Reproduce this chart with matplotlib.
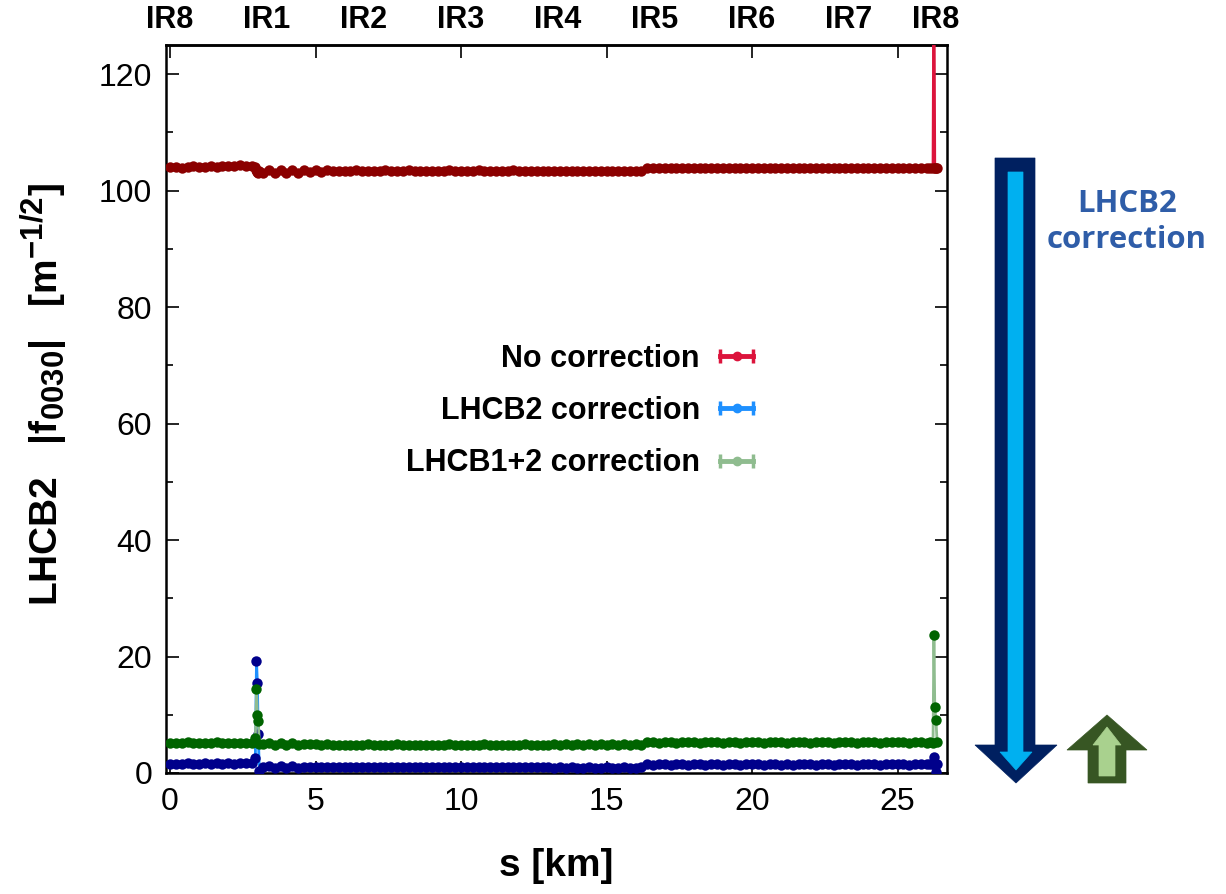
import matplotlib
matplotlib.use("Agg")
import matplotlib.pyplot as plt
import matplotlib._mathtext as _mt
from matplotlib.lines import Line2D
from matplotlib.legend_handler import HandlerLine2D, HandlerTuple
from matplotlib.ticker import AutoMinorLocator
from matplotlib.patches import Polygon

plt.rcParams['font.family'] = ['Liberation Sans', 'DejaVu Sans']
plt.rcParams['mathtext.fontset'] = 'custom'
plt.rcParams['mathtext.rm'] = 'Liberation Sans:bold'
plt.rcParams['mathtext.bf'] = 'Liberation Sans:bold'
plt.rcParams['mathtext.it'] = 'Liberation Sans:bold'
plt.rcParams['mathtext.default'] = 'rm'
_mt.SHRINK_FACTOR = 0.8  # gnuplot-like larger sub/superscripts

# ---------------- data ----------------
s_km = [0.0, 0.2, 0.4, 0.6, 0.8, 1.0, 1.2, 1.4, 1.6, 1.8, 2.0, 2.2, 2.4, 2.6, 2.8,
        2.93, 2.97, 3.0, 3.03, 3.07,
        3.2, 3.4, 3.6, 3.8, 4.0, 4.2, 4.4, 4.6, 4.8, 5.0,
        5.2, 5.4, 5.6, 5.8, 6.0, 6.2, 6.4, 6.6, 6.8, 7.0,
        7.2, 7.4, 7.6, 7.8, 8.0, 8.2, 8.4, 8.6, 8.8, 9.0,
        9.2, 9.4, 9.6, 9.8, 10.0, 10.2, 10.4, 10.6, 10.8, 11.0,
        11.2, 11.4, 11.6, 11.8, 12.0, 12.2, 12.4, 12.6, 12.8, 13.0,
        13.2, 13.4, 13.6, 13.8, 14.0, 14.2, 14.4, 14.6, 14.8, 15.0,
        15.2, 15.4, 15.6, 15.8, 16.0, 16.2, 16.4, 16.6, 16.8, 17.0,
        17.2, 17.4, 17.6, 17.8, 18.0, 18.2, 18.4, 18.6, 18.8, 19.0,
        19.2, 19.4, 19.6, 19.8, 20.0, 20.2, 20.4, 20.6, 20.8, 21.0,
        21.2, 21.4, 21.6, 21.8, 22.0, 22.2, 22.4, 22.6, 22.8, 23.0,
        23.2, 23.4, 23.6, 23.8, 24.0, 24.2, 24.4, 24.6, 24.8, 25.0,
        25.2, 25.4, 25.6, 25.8, 26.0,
        26.1, 26.22, 26.25, 26.28, 26.32, 26.36]

no_correction = [104.0, 104.1, 103.9, 104.1, 104.2, 104.0, 104.1, 104.3, 104.1, 104.2, 104.3, 104.2, 104.4, 104.2, 104.3,
                 104.1, 103.6, 103.2, 103.1, 103.4,
                 103.0, 103.5, 103.1, 103.5, 103.1, 103.5, 103.1, 103.5, 103.2, 103.5,
                 103.2, 103.5, 103.3, 103.4, 103.4, 103.4, 103.5, 103.4, 103.4, 103.4,
                 103.4, 103.5, 103.4, 103.4, 103.4, 103.5, 103.4, 103.4, 103.4, 103.4,
                 103.4, 103.4, 103.5, 103.4, 103.4, 103.4, 103.4, 103.5, 103.4, 103.4,
                 103.4, 103.4, 103.4, 103.5, 103.4, 103.4, 103.3, 103.4, 103.4, 103.4,
                 103.3, 103.4, 103.3, 103.4, 103.3, 103.3, 103.4, 103.3, 103.3, 103.4,
                 103.3, 103.3, 103.4, 103.3, 103.3, 103.4, 103.8, 103.9, 103.8, 103.9,
                 103.9, 103.8, 103.9, 103.9, 103.8, 103.9, 103.9, 103.8, 103.9, 103.9,
                 103.8, 103.9, 103.9, 103.9, 103.8, 103.9, 103.9, 103.8, 103.9, 103.9,
                 103.9, 103.8, 103.9, 103.9, 103.9, 103.8, 103.9, 103.9, 103.9, 103.8,
                 103.9, 103.9, 103.8, 103.9, 103.9, 103.9, 103.8, 103.9, 103.9, 103.9,
                 103.9, 103.9, 103.8, 103.9, 103.9,
                 103.9, 103.9, 140.0, 103.9, 103.9, 103.9]

lhcb2_correction = [1.5, 1.6, 1.5, 1.7, 1.6, 1.6, 1.7, 1.6, 1.7, 1.6, 1.7, 1.6, 1.8, 1.7, 1.7,
                    2.6, 19.3, 15.5, 6.7, 0.3,
                    1.0, 1.2, 0.9, 1.2, 0.9, 1.2, 0.9, 1.1, 1.0, 1.1,
                    1.0, 1.0, 1.1, 1.0, 1.0, 1.0, 1.1, 1.0, 1.0, 1.0,
                    1.0, 1.1, 1.0, 1.0, 1.0, 1.0, 1.1, 1.0, 1.0, 1.0,
                    1.0, 1.0, 1.0, 1.1, 1.0, 1.0, 1.0, 1.0, 1.1, 1.0,
                    1.0, 1.0, 1.1, 1.0, 1.0, 1.0, 1.0, 1.0, 1.0, 1.0,
                    0.9, 1.0, 0.9, 1.0, 0.9, 0.9, 1.0, 0.9, 0.9, 1.0,
                    0.9, 0.9, 1.0, 0.9, 0.9, 1.0, 1.5, 1.4, 1.5, 1.5,
                    1.4, 1.5, 1.5, 1.4, 1.5, 1.5, 1.4, 1.5, 1.5, 1.4,
                    1.5, 1.5, 1.4, 1.5, 1.5, 1.5, 1.4, 1.5, 1.5, 1.4,
                    1.5, 1.4, 1.5, 1.5, 1.5, 1.4, 1.5, 1.5, 1.4, 1.5,
                    1.5, 1.5, 1.4, 1.5, 1.5, 1.5, 1.4, 1.5, 1.5, 1.5,
                    1.5, 1.4, 1.5, 1.5, 1.5,
                    1.5, 1.5, 2.7, 1.4, 0.2, 1.5]

lhcb12_correction = [5.1, 5.2, 5.1, 5.3, 5.2, 5.2, 5.1, 5.2, 5.3, 5.1, 5.2, 5.1, 5.2, 5.2, 5.1,
                     6.0, 14.4, 10.0, 9.0, 5.0,
                     4.9, 5.1, 4.8, 5.1, 4.8, 5.1, 4.8, 5.0, 4.9, 5.0,
                     4.8, 4.9, 4.8, 4.8, 4.8, 4.8, 4.8, 4.8, 4.9, 4.8,
                     4.8, 4.8, 4.8, 4.9, 4.8, 4.8, 4.8, 4.8, 4.8, 4.8,
                     4.8, 4.8, 4.9, 4.8, 4.8, 4.8, 4.8, 4.8, 4.9, 4.8,
                     4.8, 4.8, 4.8, 4.8, 4.8, 4.9, 4.8, 4.8, 4.8, 4.8,
                     4.9, 4.8, 4.9, 4.8, 4.9, 4.8, 4.9, 4.8, 4.9, 4.8,
                     4.9, 4.8, 4.9, 4.8, 4.9, 4.8, 5.3, 5.3, 5.2, 5.3,
                     5.3, 5.2, 5.3, 5.3, 5.3, 5.2, 5.3, 5.3, 5.3, 5.2,
                     5.3, 5.3, 5.2, 5.3, 5.3, 5.3, 5.2, 5.3, 5.3, 5.3,
                     5.2, 5.3, 5.3, 5.3, 5.2, 5.3, 5.3, 5.3, 5.2, 5.3,
                     5.3, 5.3, 5.2, 5.3, 5.3, 5.3, 5.2, 5.3, 5.3, 5.3,
                     5.3, 5.2, 5.3, 5.3, 5.2,
                     5.3, 5.2, 23.7, 11.3, 9.1, 5.3]

ir_positions = [0.0, 3.33, 6.66, 9.99, 13.33, 16.66, 19.99, 23.32, 26.3]
ir_labels = ['IR8', 'IR1', 'IR2', 'IR3', 'IR4', 'IR5', 'IR6', 'IR7', 'IR8']

series_labels = ['No correction', 'LHCB2 correction', 'LHCB1+2 correction']
line_colors = ['#dc143c', '#1e90ff', '#8fbc8f']
point_colors = ['#8b0000', '#00008b', '#006400']

# ---------------- figure ----------------
W, H = 1226, 894
fig = plt.figure(figsize=(W / 100, H / 100), dpi=100)
ax = fig.add_axes([166 / W, 1 - 773 / H, (947 - 166) / W, (773 - 45) / H])

order = [(no_correction, 0), (lhcb2_correction, 1), (lhcb12_correction, 2)]
for vals, i in order:
    ax.plot(s_km, vals, color=line_colors[i], lw=2, marker='o', ms=7.5,
            mfc=point_colors[i], mec=point_colors[i], mew=0, zorder=3)

ax.set_xlim(-0.14, 26.7)
ax.set_ylim(0, 125)
ax.set_xticks([0, 5, 10, 15, 20, 25])
ax.set_yticks([0, 20, 40, 60, 80, 100, 120])
ax.yaxis.set_minor_locator(AutoMinorLocator(2))
ax.tick_params(which='both', direction='in', top=True, right=True, width=1.2)
ax.tick_params(which='major', length=9, labelsize=23, pad=10)
ax.tick_params(which='minor', length=5)
for sp in ax.spines.values():
    sp.set_linewidth(1.8)

ax.set_xlabel('s [km]', fontsize=28, fontweight='bold')
ax.xaxis.set_label_coords(0.5, -0.103)
ax.set_ylabel(r'LHCB2   |f$_{0030}$|   [m$^{-1/2}$]', fontsize=28, fontweight='bold')
ax.yaxis.set_label_coords(-0.123, 0.52)

sec = ax.secondary_xaxis('top')
sec.set_xticks(ir_positions)
sec.set_xticklabels(ir_labels, fontsize=22, fontweight='bold')
sec.tick_params(length=0, pad=7)
sec.spines['top'].set_linewidth(1.8)

# legend (gnuplot style: text then sample)
handles = []
hmap = {}
for i in range(3):
    cap = Line2D([], [], color=line_colors[i], lw=3.5, marker='|', ms=10, mew=2.5)
    dot = Line2D([], [], color=line_colors[i], ls='none', marker='o', ms=6)
    hmap[cap] = HandlerLine2D(numpoints=2, marker_pad=0)
    hmap[dot] = HandlerLine2D(numpoints=1)
    handles.append((cap, dot))
hmap[tuple] = HandlerTuple(ndivide=1)
leg = ax.legend(handles, series_labels, handler_map=hmap,
                loc='center right', bbox_to_anchor=(0.752, 0.497), frameon=False,
                markerfirst=False, prop={'size': 22, 'weight': 'bold'},
                handlelength=1.1, handletextpad=0.65, labelspacing=0.73,
                borderpad=0, borderaxespad=0)

# annotation arrows (in figure pixel coordinates)
ov = fig.add_axes([0, 0, 1, 1], zorder=5)
ov.set_xlim(0, W)
ov.set_ylim(H, 0)
ov.axis('off')
ov.patch.set_alpha(0)

big_outer = [(995, 158), (1035, 158), (1035, 745), (1057, 745), (1016, 783),
             (975, 745), (995, 745)]
big_inner = [(1008, 172), (1023, 172), (1023, 752), (1032, 752), (1016, 770),
             (1000, 752), (1008, 752)]
ov.add_patch(Polygon(big_outer, closed=True, fc='#002060', ec='#002060', lw=0.5))
ov.add_patch(Polygon(big_inner, closed=True, fc='#00b0f0', ec='#00b0f0', lw=0.5))

up_outer = [(1088, 783), (1126, 783), (1126, 750), (1147, 750), (1107, 715),
            (1067, 750), (1088, 750)]
up_inner = [(1099, 776), (1115, 776), (1115, 745), (1121, 745), (1107, 727),
            (1093, 745), (1099, 745)]
ov.add_patch(Polygon(up_outer, closed=True, fc='#375623', ec='#375623', lw=0.5))
ov.add_patch(Polygon(up_inner, closed=True, fc='#a9d18e', ec='#a9d18e', lw=0.5))

ov.text(1127, 222, 'LHCB2\ncorrection', ha='center', va='center', fontsize=22.4,
        fontweight='bold', color='#2f5da8', family='Open Sans', linespacing=1.3)

fig.savefig('out.png', dpi=100)
